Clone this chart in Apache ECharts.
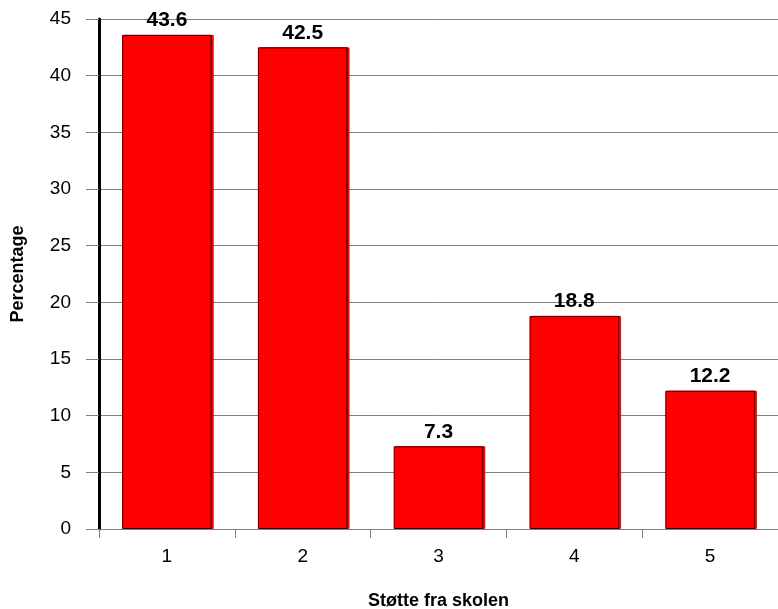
<!DOCTYPE html>
<html>
<head>
<meta charset="utf-8">
<style>
  html, body { margin: 0; padding: 0; background: #ffffff; }
  #chart { width: 778px; height: 609px; }
</style>
<script src="https://cdn.jsdelivr.net/npm/echarts@6/dist/echarts.min.js"></script>
</head>
<body>
<div id="chart"></div>
<script>
// Support from school: share of responses per category
const categories = ['1', '2', '3', '4', '5'];
const percentages = [43.6, 42.5, 7.3, 18.8, 12.2];
const yTicks = { min: 0, max: 45, interval: 5 };

const FONT = '"Liberation Sans", Arial, sans-serif';
const chart = echarts.init(document.getElementById('chart'));

chart.setOption({
  animation: false,
  backgroundColor: '#ffffff',
  grid: {
    left: 99, right: 0, top: 19, bottom: 80,
    containLabel: false,
    outerBoundsMode: 'none'
  },
  xAxis: {
    type: 'category',
    data: categories,
    name: 'Støtte fra skolen',
    nameLocation: 'middle',
    nameGap: 63,
    nameTextStyle: { fontFamily: FONT, fontSize: 18, fontWeight: 'bold', color: '#000' },
    axisLine: { show: true, lineStyle: { color: '#808080', width: 1 } },
    axisTick: { show: true, alignWithLabel: false, length: 9, lineStyle: { color: '#808080' } },
    axisLabel: { fontFamily: FONT, fontSize: 19, color: '#000', margin: 18 },
    splitLine: { show: false }
  },
  yAxis: {
    type: 'value',
    min: yTicks.min,
    max: yTicks.max,
    interval: yTicks.interval,
    name: 'Percentage',
    nameLocation: 'middle',
    nameGap: 72,
    nameRotate: 90,
    nameTextStyle: { fontFamily: FONT, fontSize: 18, fontWeight: 'bold', color: '#000' },
    axisLine: { show: true, lineStyle: { color: '#000', width: 3 } },
    axisTick: { show: true, length: 13, lineStyle: { color: '#808080' } },
    axisLabel: { fontFamily: FONT, fontSize: 19, color: '#000', margin: 28 },
    splitLine: { show: true, lineStyle: { color: '#808080', width: 1 } }
  },
  series: [{
    type: 'bar',
    data: percentages,
    barWidth: '66%',
    itemStyle: {
      color: '#ff0000',
      borderColor: '#3a0000',
      borderWidth: 1,
      shadowColor: '#ff0000',
      shadowOffsetX: 2,
      shadowOffsetY: 0,
      shadowBlur: 0
    },
    label: {
      show: true,
      position: 'top',
      distance: 4,
      fontFamily: FONT,
      fontSize: 21,
      fontWeight: 'bold',
      color: '#000',
      formatter: p => p.value.toFixed(1)
    }
  }]
});
</script>
</body>
</html>
